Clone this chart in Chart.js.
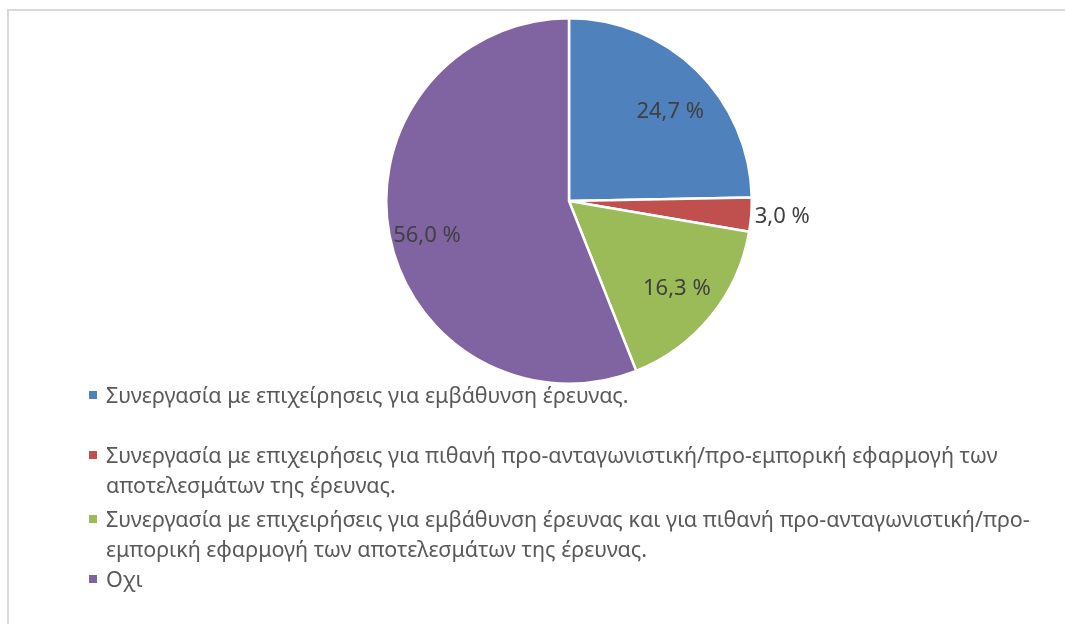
<!DOCTYPE html>
<html>
<head>
<meta charset="utf-8">
<script src="https://cdn.jsdelivr.net/npm/chart.js@4.4.1/dist/chart.umd.min.js"></script>
<style>
  html, body { margin: 0; padding: 0; background: #fff; width: 1065px; height: 624px; overflow: hidden; }
  .frame { position: absolute; left: 7px; top: 9px; width: 1100px; height: 700px; border: 2px solid #d9d9d9; box-sizing: border-box; }
  .chart-box { position: absolute; left: 0; top: 0; width: 1065px; height: 402px; }
  .legend { position: absolute; left: 87px; top: 380px; width: 946px; margin: 0; padding: 0; list-style: none;
    font-family: "Noto Sans", sans-serif; font-size: 21.5px; color: #595959; line-height: 30px; }
  .legend li { position: relative; padding-left: 19px; }
  .legend .sw { position: absolute; left: 2px; top: 11px; width: 8px; height: 8px; }
</style>
</head>
<body>
<div class="frame"></div>
<div class="chart-box"><canvas id="pie-chart"></canvas></div>
<ul class="legend" id="legend"></ul>
<script>
const categories = [
  'Συνεργασία με επιχείρησεις για εμβάθυνση έρευνας.',
  'Συνεργασία με επιχειρήσεις για πιθανή προ-ανταγωνιστική/προ-εμπορική εφαρμογή των αποτελεσμάτων της έρευνας.',
  'Συνεργασία με επιχειρήσεις για εμβάθυνση έρευνας και για πιθανή προ-ανταγωνιστική/προ-εμπορική εφαρμογή των αποτελεσμάτων της έρευνας.',
  'Οχι'
];
const shares = [24.7, 3.0, 16.3, 56.0];
const colors = ['#4f81bd', '#c0504d', '#9bbb59', '#8064a2'];

// where each value label sits: fraction of the radius, and angle nudge in degrees
const labelRadius = [0.74, 1.17, 0.76, 0.8];
const labelTurn = [4, 0, 0, -3];
// gap above each legend entry
const legendGap = [0, 30, 4, 0];

const formatPct = v => v.toFixed(1).replace('.', ',') + ' %';

const valueLabels = {
  id: 'valueLabels',
  afterDatasetsDraw(chart) {
    const ctx = chart.ctx;
    const meta = chart.getDatasetMeta(0);
    ctx.save();
    ctx.font = '22px "Noto Sans", sans-serif';
    ctx.fillStyle = '#404040';
    ctx.textAlign = 'center';
    ctx.textBaseline = 'middle';
    meta.data.forEach((arc, i) => {
      const p = arc.getProps(['x', 'y', 'startAngle', 'endAngle', 'outerRadius'], true);
      const mid = (p.startAngle + p.endAngle) / 2 + labelTurn[i] * Math.PI / 180;
      const r = p.outerRadius * labelRadius[i];
      ctx.fillText(formatPct(shares[i]), p.x + Math.cos(mid) * r, p.y + Math.sin(mid) * r);
    });
    ctx.restore();
  }
};

new Chart(document.getElementById('pie-chart'), {
  type: 'pie',
  data: {
    labels: categories,
    datasets: [{
      data: shares,
      backgroundColor: colors,
      borderColor: '#ffffff',
      borderWidth: 2.5
    }]
  },
  options: {
    responsive: true,
    maintainAspectRatio: false,
    animation: false,
    layout: { padding: { top: 17, bottom: 17, left: 73, right: 0 } },
    plugins: {
      legend: { display: false },
      tooltip: { enabled: false }
    }
  },
  plugins: [valueLabels]
});

const legendEl = document.getElementById('legend');
categories.forEach((name, i) => {
  const li = document.createElement('li');
  li.style.marginTop = legendGap[i] + 'px';
  li.innerHTML = '<span class="sw" style="background:' + colors[i] + '"></span>';
  li.appendChild(document.createTextNode(name));
  legendEl.appendChild(li);
});
</script>
</body>
</html>
